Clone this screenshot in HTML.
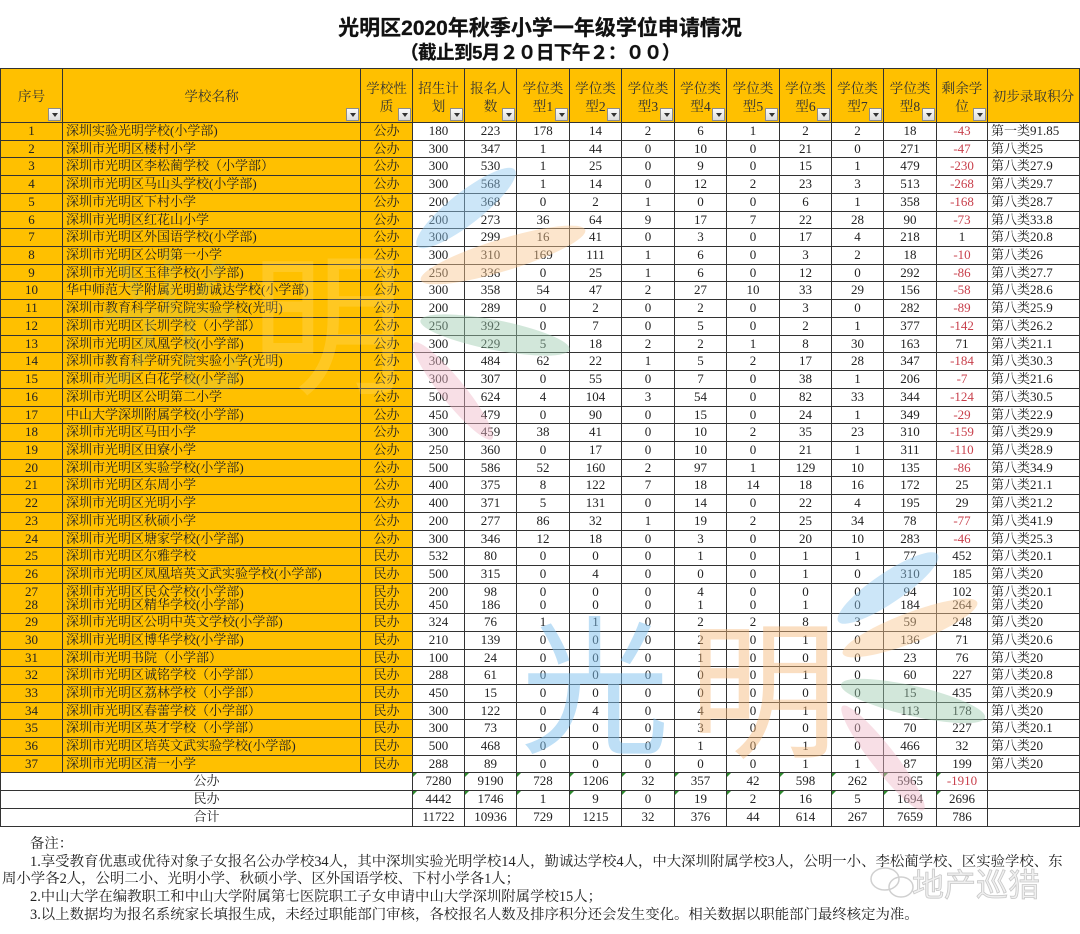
<!DOCTYPE html>
<html lang="zh">
<head>
<meta charset="utf-8">
<style>
html,body{margin:0;padding:0;}
body{width:1080px;height:934px;background:#fff;position:relative;overflow:hidden;font-family:"Liberation Serif","Noto Serif CJK SC",serif;}
.t1,.t2{position:absolute;left:0;width:1080px;text-align:center;font-family:"Liberation Sans","Noto Sans CJK SC",sans-serif;font-weight:bold;color:#111;white-space:nowrap;}
.t1{top:17px;font-size:21px;line-height:24px;-webkit-text-stroke:0.3px #111;}
.t2{top:41px;font-size:18.5px;line-height:24px;letter-spacing:-0.5px;-webkit-text-stroke:0.3px #111;}
#tb{position:absolute;left:0;top:68px;width:1080px;border-top:1px solid #333;}
.r{display:grid;grid-template-columns:63px 298px 52px 52px 52px 53px 52px 53px 52px 53px 52px 52px 53px 51px 92px;height:17.72px;box-sizing:border-box;border-bottom:1px solid #333;}
.r.b{height:17.67px;}
.r.t{height:17.8px;}
.r.d{height:30.6px;}
.r>div{box-sizing:border-box;border-right:1px solid #333;text-align:center;white-space:nowrap;overflow:hidden;line-height:16.72px;font-size:13px;color:#222;background:#fff;position:relative;}
.r.d>div{line-height:13px;padding-top:1.8px;}
.r>div:first-child{border-left:1px solid #333;}
.r>div.o{background:#ffc000;}
.r>div.n{text-align:left;padding-left:3px;}
.r>div.s{text-align:left;padding-left:3px;}
.r>div.m{color:#c8404c;}
.h{height:54px;}
.h>div{line-height:17.5px !important;padding-top:11px;font-size:13.6px !important;color:#333 !important;background:#ffc000 !important;}
.h>div.one{padding-top:19px;}
.h i{position:absolute;right:1px;bottom:1px;width:13px;height:13px;box-sizing:border-box;border:1px solid #8c8c8c;background:linear-gradient(#fafafa,#dcdcdc);}
.h i:after{content:"";position:absolute;left:2.5px;top:4px;border-left:3.5px solid transparent;border-right:3.5px solid transparent;border-top:4px solid #333;}
.g:before{content:"";position:absolute;left:0;top:0;border-top:4px solid #2e8b2e;border-right:4px solid transparent;}
#notes{position:absolute;left:0;top:836px;width:1080px;font-size:14.4px;line-height:17.7px;color:#222;white-space:nowrap;font-family:"Liberation Serif","Noto Serif CJK SC",serif;}
#wm{position:absolute;left:0;top:0;width:1080px;height:934px;pointer-events:none;}
</style>
</head>
<body>
<div class="t1">光明区2020年秋季小学一年级学位申请情况</div>
<div class="t2">（截止到5月２０日下午２：００）</div>

<div id="tb">
<div class="r h">
<div class="one">序号<i></i></div>
<div class="one">学校名称<i></i></div>
<div>学校性<br>质<i></i></div>
<div>招生计<br>划<i></i></div>
<div>报名人<br>数<i></i></div>
<div>学位类<br>型1<i></i></div>
<div>学位类<br>型2<i></i></div>
<div>学位类<br>型3<i></i></div>
<div>学位类<br>型4<i></i></div>
<div>学位类<br>型5<i></i></div>
<div>学位类<br>型6<i></i></div>
<div>学位类<br>型7<i></i></div>
<div>学位类<br>型8<i></i></div>
<div>剩余学<br>位<i></i></div>
<div class="one">初步录取积分</div>
</div>

<div class="r"><div class="o">1</div><div class="o n">深圳实验光明学校(小学部)</div><div class="o">公办</div><div>180</div><div>223</div><div>178</div><div>14</div><div>2</div><div>6</div><div>1</div><div>2</div><div>2</div><div>18</div><div class="m">-43</div><div class="s">第一类91.85</div></div>
<div class="r"><div class="o">2</div><div class="o n">深圳市光明区楼村小学</div><div class="o">公办</div><div>300</div><div>347</div><div>1</div><div>44</div><div>0</div><div>10</div><div>0</div><div>21</div><div>0</div><div>271</div><div class="m">-47</div><div class="s">第八类25</div></div>
<div class="r"><div class="o">3</div><div class="o n">深圳市光明区李松蔺学校（小学部）</div><div class="o">公办</div><div>300</div><div>530</div><div>1</div><div>25</div><div>0</div><div>9</div><div>0</div><div>15</div><div>1</div><div>479</div><div class="m">-230</div><div class="s">第八类27.9</div></div>
<div class="r"><div class="o">4</div><div class="o n">深圳市光明区马山头学校(小学部)</div><div class="o">公办</div><div>300</div><div>568</div><div>1</div><div>14</div><div>0</div><div>12</div><div>2</div><div>23</div><div>3</div><div>513</div><div class="m">-268</div><div class="s">第八类29.7</div></div>
<div class="r"><div class="o">5</div><div class="o n">深圳市光明区下村小学</div><div class="o">公办</div><div>200</div><div>368</div><div>0</div><div>2</div><div>1</div><div>0</div><div>0</div><div>6</div><div>1</div><div>358</div><div class="m">-168</div><div class="s">第八类28.7</div></div>
<div class="r"><div class="o">6</div><div class="o n">深圳市光明区红花山小学</div><div class="o">公办</div><div>200</div><div>273</div><div>36</div><div>64</div><div>9</div><div>17</div><div>7</div><div>22</div><div>28</div><div>90</div><div class="m">-73</div><div class="s">第八类33.8</div></div>
<div class="r"><div class="o">7</div><div class="o n">深圳市光明区外国语学校(小学部)</div><div class="o">公办</div><div>300</div><div>299</div><div>16</div><div>41</div><div>0</div><div>3</div><div>0</div><div>17</div><div>4</div><div>218</div><div>1</div><div class="s">第八类20.8</div></div>
<div class="r"><div class="o">8</div><div class="o n">深圳市光明区公明第一小学</div><div class="o">公办</div><div>300</div><div>310</div><div>169</div><div>111</div><div>1</div><div>6</div><div>0</div><div>3</div><div>2</div><div>18</div><div class="m">-10</div><div class="s">第八类26</div></div>
<div class="r"><div class="o">9</div><div class="o n">深圳市光明区玉律学校(小学部)</div><div class="o">公办</div><div>250</div><div>336</div><div>0</div><div>25</div><div>1</div><div>6</div><div>0</div><div>12</div><div>0</div><div>292</div><div class="m">-86</div><div class="s">第八类27.7</div></div>
<div class="r"><div class="o">10</div><div class="o n">华中师范大学附属光明勤诚达学校(小学部)</div><div class="o">公办</div><div>300</div><div>358</div><div>54</div><div>47</div><div>2</div><div>27</div><div>10</div><div>33</div><div>29</div><div>156</div><div class="m">-58</div><div class="s">第八类28.6</div></div>
<div class="r"><div class="o">11</div><div class="o n">深圳市教育科学研究院实验学校(光明)</div><div class="o">公办</div><div>200</div><div>289</div><div>0</div><div>2</div><div>0</div><div>2</div><div>0</div><div>3</div><div>0</div><div>282</div><div class="m">-89</div><div class="s">第八类25.9</div></div>
<div class="r"><div class="o">12</div><div class="o n">深圳市光明区长圳学校（小学部）</div><div class="o">公办</div><div>250</div><div>392</div><div>0</div><div>7</div><div>0</div><div>5</div><div>0</div><div>2</div><div>1</div><div>377</div><div class="m">-142</div><div class="s">第八类26.2</div></div>
<div class="r"><div class="o">13</div><div class="o n">深圳市光明区凤凰学校(小学部)</div><div class="o">公办</div><div>300</div><div>229</div><div>5</div><div>18</div><div>2</div><div>2</div><div>1</div><div>8</div><div>30</div><div>163</div><div>71</div><div class="s">第八类21.1</div></div>
<div class="r"><div class="o">14</div><div class="o n">深圳市教育科学研究院实验小学(光明)</div><div class="o">公办</div><div>300</div><div>484</div><div>62</div><div>22</div><div>1</div><div>5</div><div>2</div><div>17</div><div>28</div><div>347</div><div class="m">-184</div><div class="s">第八类30.3</div></div>
<div class="r"><div class="o">15</div><div class="o n">深圳市光明区白花学校(小学部)</div><div class="o">公办</div><div>300</div><div>307</div><div>0</div><div>55</div><div>0</div><div>7</div><div>0</div><div>38</div><div>1</div><div>206</div><div class="m">-7</div><div class="s">第八类21.6</div></div>
<div class="r"><div class="o">16</div><div class="o n">深圳市光明区公明第二小学</div><div class="o">公办</div><div>500</div><div>624</div><div>4</div><div>104</div><div>3</div><div>54</div><div>0</div><div>82</div><div>33</div><div>344</div><div class="m">-124</div><div class="s">第八类30.5</div></div>
<div class="r"><div class="o">17</div><div class="o n">中山大学深圳附属学校(小学部)</div><div class="o">公办</div><div>450</div><div>479</div><div>0</div><div>90</div><div>0</div><div>15</div><div>0</div><div>24</div><div>1</div><div>349</div><div class="m">-29</div><div class="s">第八类22.9</div></div>
<div class="r"><div class="o">18</div><div class="o n">深圳市光明区马田小学</div><div class="o">公办</div><div>300</div><div>459</div><div>38</div><div>41</div><div>0</div><div>10</div><div>2</div><div>35</div><div>23</div><div>310</div><div class="m">-159</div><div class="s">第八类29.9</div></div>
<div class="r"><div class="o">19</div><div class="o n">深圳市光明区田寮小学</div><div class="o">公办</div><div>250</div><div>360</div><div>0</div><div>17</div><div>0</div><div>10</div><div>0</div><div>21</div><div>1</div><div>311</div><div class="m">-110</div><div class="s">第八类28.9</div></div>
<div class="r"><div class="o">20</div><div class="o n">深圳市光明区实验学校(小学部)</div><div class="o">公办</div><div>500</div><div>586</div><div>52</div><div>160</div><div>2</div><div>97</div><div>1</div><div>129</div><div>10</div><div>135</div><div class="m">-86</div><div class="s">第八类34.9</div></div>
<div class="r"><div class="o">21</div><div class="o n">深圳市光明区东周小学</div><div class="o">公办</div><div>400</div><div>375</div><div>8</div><div>122</div><div>7</div><div>18</div><div>14</div><div>18</div><div>16</div><div>172</div><div>25</div><div class="s">第八类21.1</div></div>
<div class="r"><div class="o">22</div><div class="o n">深圳市光明区光明小学</div><div class="o">公办</div><div>400</div><div>371</div><div>5</div><div>131</div><div>0</div><div>14</div><div>0</div><div>22</div><div>4</div><div>195</div><div>29</div><div class="s">第八类21.2</div></div>
<div class="r"><div class="o">23</div><div class="o n">深圳市光明区秋硕小学</div><div class="o">公办</div><div>200</div><div>277</div><div>86</div><div>32</div><div>1</div><div>19</div><div>2</div><div>25</div><div>34</div><div>78</div><div class="m">-77</div><div class="s">第八类41.9</div></div>
<div class="r"><div class="o">24</div><div class="o n">深圳市光明区塘家学校(小学部)</div><div class="o">公办</div><div>300</div><div>346</div><div>12</div><div>18</div><div>0</div><div>3</div><div>0</div><div>20</div><div>10</div><div>283</div><div class="m">-46</div><div class="s">第八类25.3</div></div>
<div class="r"><div class="o">25</div><div class="o n">深圳市光明区尔雅学校</div><div class="o">民办</div><div>532</div><div>80</div><div>0</div><div>0</div><div>0</div><div>1</div><div>0</div><div>1</div><div>1</div><div>77</div><div>452</div><div class="s">第八类20.1</div></div>
<div class="r"><div class="o">26</div><div class="o n">深圳市光明区凤凰培英文武实验学校(小学部)</div><div class="o">民办</div><div>500</div><div>315</div><div>0</div><div>4</div><div>0</div><div>0</div><div>0</div><div>1</div><div>0</div><div>310</div><div>185</div><div class="s">第八类20</div></div>
<div class="r d"><div class="o">27<br>28</div><div class="o n">深圳市光明区民众学校(小学部)<br>深圳市光明区精华学校(小学部)</div><div class="o">民办<br>民办</div><div>200<br>450</div><div>98<br>186</div><div>0<br>0</div><div>0<br>0</div><div>0<br>0</div><div>4<br>1</div><div>0<br>0</div><div>0<br>1</div><div>0<br>0</div><div>94<br>184</div><div>102<br>264</div><div class="s">第八类20.1<br>第八类20</div></div>
<div class="r b"><div class="o">29</div><div class="o n">深圳市光明区公明中英文学校(小学部)</div><div class="o">民办</div><div>324</div><div>76</div><div>1</div><div>1</div><div>0</div><div>2</div><div>2</div><div>8</div><div>3</div><div>59</div><div>248</div><div class="s">第八类20</div></div>
<div class="r b"><div class="o">30</div><div class="o n">深圳市光明区博华学校(小学部)</div><div class="o">民办</div><div>210</div><div>139</div><div>0</div><div>0</div><div>0</div><div>2</div><div>0</div><div>1</div><div>0</div><div>136</div><div>71</div><div class="s">第八类20.6</div></div>
<div class="r b"><div class="o">31</div><div class="o n">深圳市光明书院（小学部）</div><div class="o">民办</div><div>100</div><div>24</div><div>0</div><div>0</div><div>0</div><div>1</div><div>0</div><div>0</div><div>0</div><div>23</div><div>76</div><div class="s">第八类20</div></div>
<div class="r b"><div class="o">32</div><div class="o n">深圳市光明区诚铭学校（小学部）</div><div class="o">民办</div><div>288</div><div>61</div><div>0</div><div>0</div><div>0</div><div>0</div><div>0</div><div>1</div><div>0</div><div>60</div><div>227</div><div class="s">第八类20.8</div></div>
<div class="r b"><div class="o">33</div><div class="o n">深圳市光明区荔林学校（小学部）</div><div class="o">民办</div><div>450</div><div>15</div><div>0</div><div>0</div><div>0</div><div>0</div><div>0</div><div>0</div><div>0</div><div>15</div><div>435</div><div class="s">第八类20.9</div></div>
<div class="r b"><div class="o">34</div><div class="o n">深圳市光明区春蕾学校（小学部）</div><div class="o">民办</div><div>300</div><div>122</div><div>0</div><div>4</div><div>0</div><div>4</div><div>0</div><div>1</div><div>0</div><div>113</div><div>178</div><div class="s">第八类20</div></div>
<div class="r b"><div class="o">35</div><div class="o n">深圳市光明区英才学校（小学部）</div><div class="o">民办</div><div>300</div><div>73</div><div>0</div><div>0</div><div>0</div><div>3</div><div>0</div><div>0</div><div>0</div><div>70</div><div>227</div><div class="s">第八类20.1</div></div>
<div class="r b"><div class="o">36</div><div class="o n">深圳市光明区培英文武实验学校(小学部)</div><div class="o">民办</div><div>500</div><div>468</div><div>0</div><div>0</div><div>0</div><div>1</div><div>0</div><div>1</div><div>0</div><div>466</div><div>32</div><div class="s">第八类20</div></div>
<div class="r b"><div class="o">37</div><div class="o n">深圳市光明区清一小学</div><div class="o">民办</div><div>288</div><div>89</div><div>0</div><div>0</div><div>0</div><div>0</div><div>0</div><div>1</div><div>1</div><div>87</div><div>199</div><div class="s">第八类20</div></div>
<div class="r t"><div style="grid-column:span 3">公办</div><div class="g">7280</div><div class="g">9190</div><div class="g">728</div><div class="g">1206</div><div class="g">32</div><div class="g">357</div><div class="g">42</div><div class="g">598</div><div class="g">262</div><div class="g">5965</div><div class="g m">-1910</div><div></div></div>
<div class="r t"><div style="grid-column:span 3">民办</div><div class="g">4442</div><div class="g">1746</div><div class="g">1</div><div class="g">9</div><div class="g">0</div><div class="g">19</div><div class="g">2</div><div class="g">16</div><div class="g">5</div><div class="g">1694</div><div class="g">2696</div><div></div></div>
<div class="r t"><div style="grid-column:span 3">合计</div><div>11722</div><div>10936</div><div>729</div><div>1215</div><div>32</div><div>376</div><div>44</div><div>614</div><div>267</div><div>7659</div><div>786</div><div></div></div>
</div>

<div id="notes">
<div style="padding-left:30px">备注：</div>
<div style="padding-left:30px">1.享受教育优惠或优待对象子女报名公办学校34人，其中深圳实验光明学校14人，勤诚达学校4人，中大深圳附属学校3人，公明一小、李松蔺学校、区实验学校、东</div>
<div style="padding-left:2px">周小学各2人，公明二小、光明小学、秋硕小学、区外国语学校、下村小学各1人；</div>
<div style="padding-left:30px">2.中山大学在编教职工和中山大学附属第七医院职工子女申请中山大学深圳附属学校15人；</div>
<div style="padding-left:30px">3.以上数据均为报名系统家长填报生成，未经过职能部门审核，各校报名人数及排序积分还会发生变化。相关数据以职能部门最终核定为准。</div>
</div>

<svg id="wm" width="1080" height="934" viewBox="0 0 1080 934" xmlns="http://www.w3.org/2000/svg">
  <text x="95" y="378" font-size="150" font-family="Noto Sans CJK SC, sans-serif" fill="#a6d49a" opacity="0.15">光</text>
  <text x="250" y="382" font-size="155" font-family="Noto Sans CJK SC, sans-serif" fill="#ffe9a8" opacity="0.2">明</text>
  <ellipse cx="466" cy="208" rx="62" ry="16" transform="rotate(-38 466 208)" fill="#8ec8f0" opacity="0.45"/>
  <ellipse cx="503" cy="255" rx="86" ry="16" transform="rotate(-17 503 255)" fill="#f8c68e" opacity="0.45"/>
  <ellipse cx="495" cy="335" rx="76" ry="15" transform="rotate(11 495 335)" fill="#9cc9ad" opacity="0.45"/>
  <ellipse cx="453" cy="391" rx="62" ry="12" transform="rotate(51 453 391)" fill="#f0b8c8" opacity="0.45"/>
  <text x="520" y="742" font-size="150" font-family="Noto Sans CJK SC, sans-serif" fill="#7fc0ee" opacity="0.5">光</text>
  <text x="688" y="746" font-size="150" font-family="Noto Sans CJK SC, sans-serif" fill="#f6b878" opacity="0.45">明</text>
  <ellipse cx="888" cy="588" rx="60" ry="15" transform="rotate(-34 888 588)" fill="#8ec8f0" opacity="0.45"/>
  <ellipse cx="910" cy="628" rx="72" ry="15" transform="rotate(-21 910 628)" fill="#f8c68e" opacity="0.45"/>
  <ellipse cx="913" cy="701" rx="74" ry="15" transform="rotate(13 913 701)" fill="#9cc9ad" opacity="0.45"/>
  <ellipse cx="883" cy="758" rx="66" ry="12" transform="rotate(52 883 758)" fill="#f0b8c8" opacity="0.45"/>
  <ellipse cx="885" cy="879" rx="14" ry="11" fill="none" stroke="#d0d0d0" stroke-width="1.5"/>
  <ellipse cx="901" cy="887" rx="12" ry="10" fill="none" stroke="#d0d0d0" stroke-width="1.5"/>
  <text x="912" y="896" font-size="32" font-family="Noto Sans CJK SC, sans-serif" fill="#f0f0f0" stroke="#c8c8c8" stroke-width="0.8">地产巡猎</text>
</svg>
</body>
</html>
